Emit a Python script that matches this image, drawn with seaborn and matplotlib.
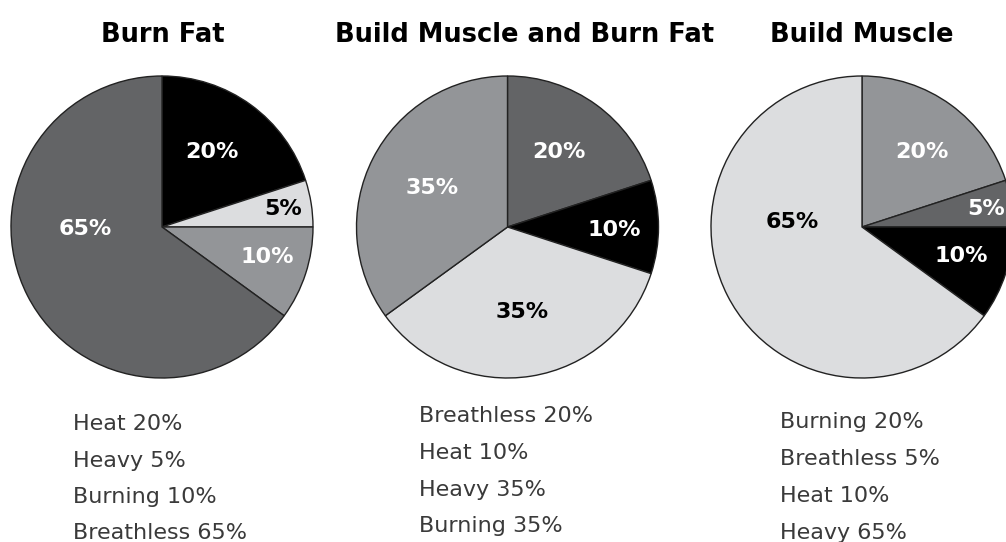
import matplotlib
matplotlib.use("Agg")
import matplotlib.pyplot as plt
import seaborn as sns

# ---- data ----
titles = ["Burn Fat", "Build Muscle and Burn Fat", "Build Muscle"]
burn_fat_labels = ["Heat", "Heavy", "Burning", "Breathless"]
burn_fat_values = [20, 5, 10, 65]
both_labels = ["Breathless", "Heat", "Heavy", "Burning"]
both_values = [20, 10, 35, 35]
muscle_labels = ["Burning", "Breathless", "Heat", "Heavy"]
muscle_values = [20, 5, 10, 65]

# ---- style ----
sns.set_theme(style="white")
category_colors = {"Heat": "#000000", "Heavy": "#dcdddf",
                   "Burning": "#939598", "Breathless": "#636466"}
light_categories = {"Heavy"}
TITLE_FONT = ["DejaVu Sans"]
LABEL_FONT = ["DejaVu Sans"]
LEGEND_FONT = ["DejaVu Sans"]

W, H = 1006, 542
fig = plt.figure(figsize=(W / 100, H / 100), dpi=100)
fig.patch.set_facecolor("white")

R = 151.0
centers_px = [(162, 227), (507.5, 227), (862, 227)]
label_pos = [
    [(0.33, 0.50), (0.80, 0.12), (0.70, -0.20), (-0.51, -0.01)],
    [(0.34, 0.50), (0.71, -0.02), (0.10, -0.56), (-0.50, 0.26)],
    [(0.40, 0.50), (0.82, 0.12), (0.66, -0.19), (-0.46, 0.03)],
]
title_x = [163, 525, 862]
title_baseline = 42
legend_x = [73, 419, 780]
legend_baselines = [[430, 467, 503, 539], [422, 459, 496, 532], [428, 465, 502, 539]]

datasets = [(burn_fat_labels, burn_fat_values),
            (both_labels, both_values),
            (muscle_labels, muscle_values)]

lim = 1.03
for i, (labels, values) in enumerate(datasets):
    cx, cy = centers_px[i]
    half = R * lim
    ax = fig.add_axes([(cx - half) / W, (H - cy - half) / H, 2 * half / W, 2 * half / H])
    palette = sns.color_palette([category_colors[c] for c in labels])
    wedges, texts, autotexts = ax.pie(
        values, colors=palette, startangle=90, counterclock=False,
        autopct=lambda p: f"{p:.0f}%", pctdistance=0.6,
        wedgeprops=dict(edgecolor="#222222", linewidth=1.0),
        textprops=dict(fontsize=16, fontweight="bold", family=LABEL_FONT))
    for j, t in enumerate(autotexts):
        t.set_position(label_pos[i][j])
        t.set_color("black" if labels[j] in light_categories else "white")
        t.set_ha("center")
        t.set_va("center")
    ax.set_xlim(-lim, lim)
    ax.set_ylim(-lim, lim)
    ax.set_aspect("auto")
    ax.axis("off")

    fig.text(title_x[i] / W, 1 - title_baseline / H, titles[i],
             ha="center", va="baseline", fontsize=18.5, fontweight="bold",
             family=TITLE_FONT, color="black")
    for j, (lab, val) in enumerate(zip(labels, values)):
        fig.text(legend_x[i] / W, 1 - legend_baselines[i][j] / H, f"{lab} {val}%",
                 ha="left", va="baseline", fontsize=16, family=LEGEND_FONT,
                 color="#3a3a3a")

fig.savefig("out.png", dpi=100, facecolor="white")
